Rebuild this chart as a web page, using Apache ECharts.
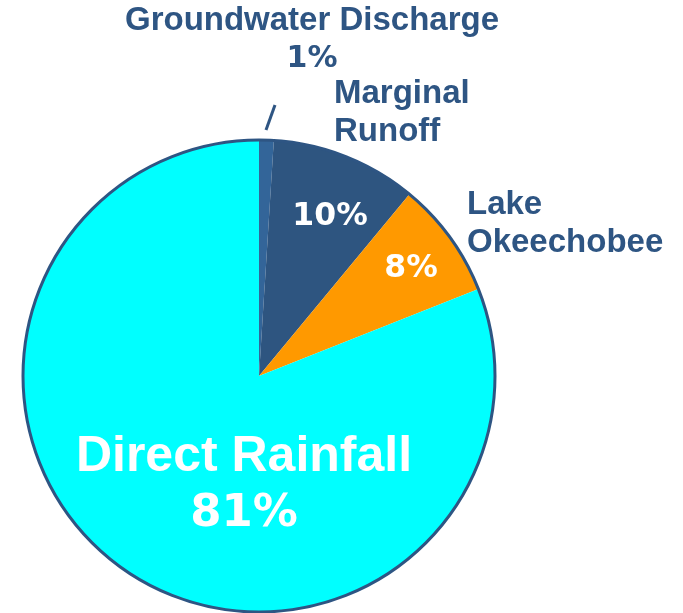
<!DOCTYPE html>
<html>
<head>
<meta charset="utf-8">
<script src="https://cdn.jsdelivr.net/npm/echarts@6/dist/echarts.min.js"></script>
<style>
html,body{margin:0;padding:0;background:#fff;}
#chart{width:683px;height:613px;}
</style>
</head>
<body>
<div id="chart"></div>
<script>
const categories = ['Groundwater Discharge', 'Marginal Runoff', 'Lake Okeechobee', 'Direct Rainfall'];
const shares = [1, 10, 8, 81];
const sliceColors = ['#336599', '#2E5580', '#FF9900', '#00FFFF'];
const outsideText = ['{w|Groundwater Discharge}\n{p|1%}', '{w|Marginal}\n{w|Runoff}', '{w|Lake}\n{w|Okeechobee}', ''];
const insideText = ['', '{p|10%}', '{p|8%}', '{w|Direct Rainfall}\n{p|81%}'];

const navy = '#2E5583';
const WORD_FONT = '"Liberation Sans", Arial, sans-serif';
const PCT_FONT = '"DejaVu Sans", Verdana, sans-serif';
const center = [259, 376];
const radius = 236;

const outsidePos = [
  { x: 312, y: 40, align: 'center' },
  { x: 334, y: 113, align: 'left' },
  { x: 467, y: 224, align: 'left' },
  null
];
const insidePos = [
  null,
  { x: 330, y: 217 },
  { x: 411, y: 269 },
  { x: 244, y: 486 }
];

const chart = echarts.init(document.getElementById('chart'), null, { renderer: 'canvas' });

const baseData = categories.map((c, i) => ({ name: c, value: shares[i] }));

chart.setOption({
  animation: false,
  backgroundColor: '#ffffff',
  series: [
    {
      type: 'pie',
      center: center,
      radius: radius,
      startAngle: 90,
      clockwise: true,
      avoidLabelOverlap: false,
      silent: true,
      data: baseData.map((d, i) => ({
        name: d.name,
        value: d.value,
        itemStyle: { color: sliceColors[i], borderWidth: 0 },
        label: {
          show: insideText[i] !== '',
          position: 'inside',
          formatter: insideText[i],
          color: '#ffffff',
          align: 'center',
          verticalAlign: 'middle',
          rich: i === 3 ? {
            w: { fontFamily: WORD_FONT, fontWeight: 'bold', fontSize: 50, lineHeight: 57, color: '#ffffff' },
            p: { fontFamily: PCT_FONT, fontWeight: 'bold', fontSize: 45, lineHeight: 57, color: '#ffffff' }
          } : {
            p: { fontFamily: PCT_FONT, fontWeight: 'bold', fontSize: 31.5, lineHeight: 36, color: '#ffffff' }
          }
        },
        labelLine: { show: false }
      })),
      labelLayout: function (p) {
        const pos = insidePos[p.dataIndex];
        if (!pos) return {};
        return { x: pos.x, y: pos.y, align: 'center', verticalAlign: 'middle' };
      }
    },
    {
      type: 'pie',
      center: center,
      radius: radius,
      startAngle: 90,
      clockwise: true,
      avoidLabelOverlap: false,
      silent: true,
      data: baseData.map((d, i) => ({
        name: d.name,
        value: d.value,
        itemStyle: { color: 'rgba(0,0,0,0)', borderWidth: 0 },
        label: {
          show: outsideText[i] !== '',
          position: 'outside',
          formatter: outsideText[i],
          color: navy,
          overflow: 'none',
          align: outsidePos[i] ? outsidePos[i].align : 'center',
          rich: {
            w: { fontFamily: WORD_FONT, fontWeight: 'bold', fontSize: 33, lineHeight: 38, color: navy },
            p: { fontFamily: PCT_FONT, fontWeight: 'bold', fontSize: 30, lineHeight: 38, color: navy }
          }
        },
        labelLine: {
          show: i === 0,
          lineStyle: { color: navy, width: 3 }
        }
      })),
      labelLayout: function (p) {
        const pos = outsidePos[p.dataIndex];
        if (!pos) return {};
        const r = { x: pos.x, y: pos.y, align: pos.align, verticalAlign: 'middle' };
        if (p.dataIndex === 0) {
          r.labelLinePoints = [[266, 130], [275, 105]];
        }
        return r;
      }
    },
    {
      type: 'pie',
      center: center,
      radius: radius,
      silent: true,
      label: { show: false },
      labelLine: { show: false },
      data: [{ value: 1, itemStyle: { color: 'rgba(0,0,0,0)', borderColor: navy, borderWidth: 3 } }]
    }
  ]
});
</script>
</body>
</html>
